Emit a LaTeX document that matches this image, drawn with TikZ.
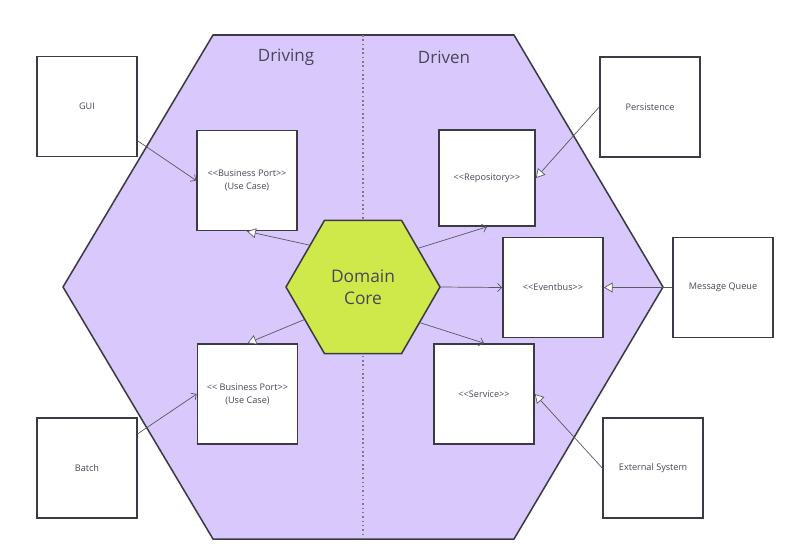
\documentclass[tikz,border=0pt]{standalone}
\usepackage{fontspec}
\setmainfont{Open Sans}[Ligatures=TeXOff]
\usepackage{xcolor}
\usepackage{tikz}
\usetikzlibrary{arrows.meta,shapes.geometric}
\definecolor{hexfill}{HTML}{D8C8FC}
\definecolor{corefill}{HTML}{CFE94A}
\definecolor{edge}{HTML}{3C3A44}
\definecolor{label}{HTML}{4A4658}
\definecolor{wire}{HTML}{5A5860}
\definecolor{divider}{HTML}{7C7A88}

\begin{document}
\begin{tikzpicture}[x=0.03cm,y=0.03cm]
                \tikzstyle{every node}+=[inner sep=0pt, text=label]
                \tikzstyle{block}=[draw=edge, line width=1.4pt, fill=white, minimum width=3cm, minimum height=3cm, font=\fontsize{7.8}{11}\selectfont, align=center]
                \tikzstyle{uses}=[draw=wire, line width=0.6pt, -{Straight Barb[length=3.5pt,width=7pt]}]
                \tikzstyle{impl}=[draw=wire, line width=0.6pt, -{Triangle[length=7.5pt,width=8.5pt,fill=white]}]
                \useasboundingbox (0,0) rectangle (796,-548);
                \draw [edge, line width=1.3pt, fill=hexfill] (213,-35) -- (514,-35) -- (663,-287) -- (514,-539) -- (213,-539) -- (63,-287) -- cycle;
                \draw [divider, line width=1pt, dash pattern=on 1.3pt off 2.4pt] (363,-35) -- (363,-539);
                \node (driving) at (286,-57) {\fontsize{14.5}{17}\selectfont Driving};
                \node (driven) at (444,-57) {\fontsize{14.5}{17}\selectfont Driven};
                \node [draw=edge, line width=1.3pt, fill=corefill, regular polygon, regular polygon sides=6, minimum size=4.62cm, align=center, font=\fontsize{14.8}{19}\selectfont] (core) at (363,-287) {Domain\\Core};
                \node [block] (gui) at (87,-106.5) {GUI};
                \node [block] (batch) at (87,-468) {Batch};
                \node [block] (bptop) at (247,-180.5) {<<Business Port>>\\(Use Case)};
                \node [block] (bpbottom) at (247.5,-394) {<< Business Port>>\\(Use Case)};
                \node [block, minimum width=2.88cm, minimum height=2.88cm] (repo) at (487,-178) {<<Repository>>};
                \node [block] (eventbus) at (553,-287.5) {<<Eventbus>>};
                \node [block] (service) at (484,-394) {<<Service>>};
                \node [block] (persist) at (650,-107) {Persistence};
                \node [block] (queue) at (723,-287.5) {Message Queue};
                \node [block] (external) at (653,-468) {External System};
                \draw [uses] (gui) -- (bptop.west);
                \draw [uses] (batch) -- (bpbottom.west);
                \draw [impl] (core.142) -- (bptop.south);
                \draw [impl] (core.209) -- (bpbottom.north);
                \draw [uses] (core.35) -- (repo.south);
                \draw [uses] (core.east) -- (eventbus.west);
                \draw [uses] (core.328) -- (service.north);
                \draw [impl] (persist.west) -- (repo.east);
                \draw [impl] (queue.west) -- (eventbus.east);
                \draw [impl] (external.west) -- (service.east);
            \end{tikzpicture}
\end{document}
